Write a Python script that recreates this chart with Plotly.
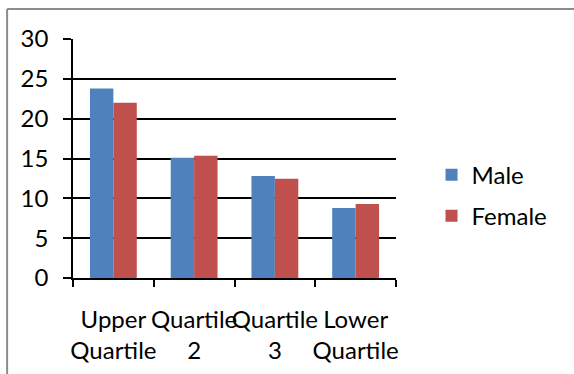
import plotly.graph_objects as go

# Category labels and series values
categories = ["Upper<br>Quartile", "Quartile<br>2", "Quartile<br>3", "Lower<br>Quartile"]
male = [23.8, 15.1, 12.8, 8.8]
female = [22.0, 15.35, 12.45, 9.3]

FONT = "Lato"
FS = 24

fig = go.Figure()
fig.add_trace(go.Bar(name="Male", x=categories, y=male,
                     marker=dict(color="#4F81BD", line=dict(width=0)),
                     legendgroup="m"))
fig.add_trace(go.Bar(name="Female", x=categories, y=female,
                     marker=dict(color="#C0504D", line=dict(width=0)),
                     legendgroup="f"))

fig.update_layout(
    width=574, height=374,
    margin=dict(l=73, r=178, t=39, b=96, autoexpand=False),
    paper_bgcolor="white", plot_bgcolor="white",
    barmode="group", bargap=0.42, bargroupgap=0,
    font=dict(family=FONT, size=FS, color="black"),
    showlegend=True,
    legend=dict(x=1.11, xanchor="left", y=0.345, yanchor="middle",
                font=dict(family=FONT, size=FS),
                traceorder="grouped", tracegroupgap=7,
                bgcolor="rgba(0,0,0,0)"),
    xaxis=dict(showline=True, linecolor="black", linewidth=1.5,
               ticks="outside", ticklen=7, tickwidth=1.5, tickcolor="black",
               tickson="boundaries", showgrid=False, ticklabelstandoff=19,
               automargin=False,
               tickfont=dict(family=FONT, size=FS), tickangle=0),
    yaxis=dict(range=[0, 30], dtick=5, showline=True, linecolor="black",
               linewidth=1.5, ticks="outside", ticklen=8, tickwidth=1.5,
               tickcolor="black", showgrid=True, gridcolor="black",
               gridwidth=1.5, zeroline=False, ticklabelstandoff=10,
               automargin=False,
               tickfont=dict(family=FONT, size=FS)),
)

# Outer frame: grey rule along the top and left edges
fig.add_shape(type="line", xref="paper", yref="paper",
              x0=-0.204, x1=1.8, y0=1.1255, y1=1.1255,
              line=dict(color="#8c8c8c", width=2))
fig.add_shape(type="line", xref="paper", yref="paper",
              x0=-0.204, x1=-0.204, y0=1.1255, y1=-0.45,
              line=dict(color="#8c8c8c", width=2))

fig.write_html("out.html")
